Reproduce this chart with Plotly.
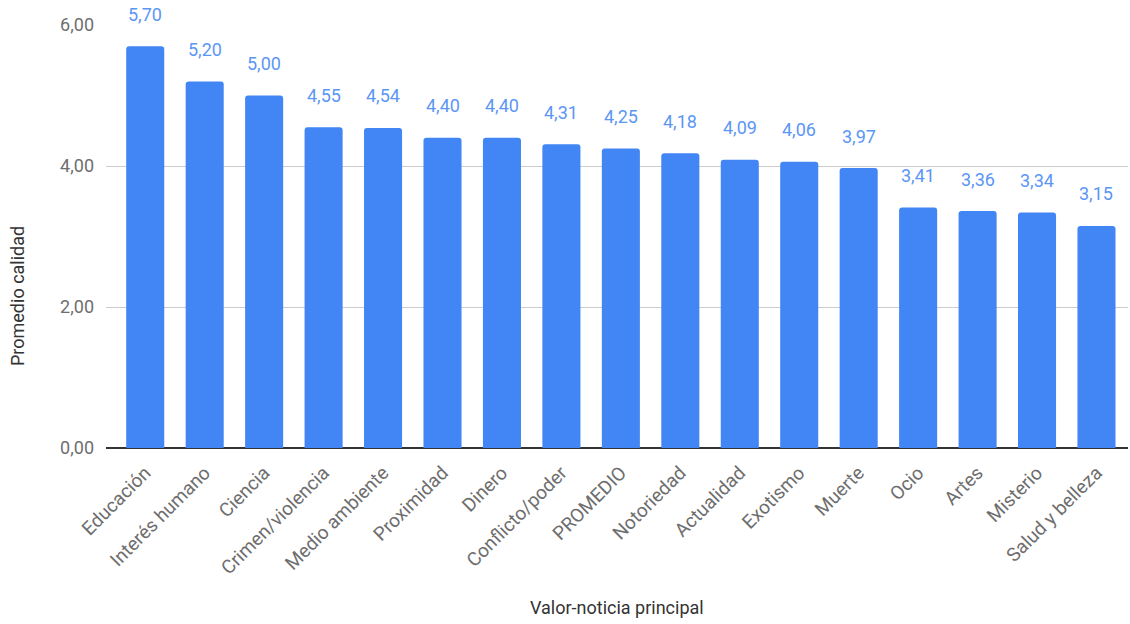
import plotly.graph_objects as go

categorias = ["Educación", "Interés humano", "Ciencia", "Crimen/violencia", "Medio ambiente",
              "Proximidad", "Dinero", "Conflicto/poder", "PROMEDIO", "Notoriedad", "Actualidad",
              "Exotismo", "Muerte", "Ocio", "Artes", "Misterio", "Salud y belleza"]
promedio_calidad = [5.70, 5.20, 5.00, 4.55, 4.54, 4.40, 4.40, 4.31, 4.25, 4.18, 4.09,
                    4.06, 3.97, 3.41, 3.36, 3.34, 3.15]
y_ticks = [0, 2, 4, 6]

AZUL = "#4285F4"
GRIS = "#6e6e6e"
FUENTE = "Roboto, Arial, sans-serif"

x_idx = list(range(len(categorias)))

fig = go.Figure(go.Bar(
    x=x_idx,
    y=promedio_calidad,
    marker=dict(color=AZUL, line=dict(width=0)),
    width=0.64,
    hoverinfo="x+y",
))

# etiquetas de valor sobre cada barra
for i, v in zip(x_idx, promedio_calidad):
    fig.add_annotation(
        x=i, y=v, text=f"{v:.2f}".replace(".", ","),
        showarrow=False, yshift=32, yanchor="middle",
        font=dict(family=FUENTE, size=18, color="#5b96f5"),
    )

# títulos de los ejes
fig.add_annotation(
    text="Valor-noticia principal", xref="paper", yref="paper",
    x=0.5, y=-(607 - 448) / 423, xanchor="center", yanchor="middle",
    showarrow=False, font=dict(family=FUENTE, size=18, color="#333333"),
)
fig.add_annotation(
    text="Promedio calidad", xref="paper", yref="paper",
    x=-(106 - 18) / 1022, y=(448 - 296) / 423, xanchor="center", yanchor="middle",
    textangle=-90, showarrow=False, font=dict(family=FUENTE, size=18, color="#333333"),
)

fig.update_layout(
    width=1130, height=624,
    margin=dict(l=106, r=2, t=25, b=176),
    plot_bgcolor="white", paper_bgcolor="white",
    separators=",.",
    font=dict(family=FUENTE, color=GRIS, size=17),
    barcornerradius=3,
    showlegend=False,
    xaxis=dict(
        tickmode="array", tickvals=x_idx, ticktext=categorias,
        range=[-0.66, 16.53], tickangle=-45,
        tickfont=dict(family=FUENTE, size=19, color=GRIS),
        showgrid=False, zeroline=False,
        showline=False, ticks="", automargin=False,
        ticklabelstandoff=9,
    ),
    yaxis=dict(
        range=[0, 6], tickvals=y_ticks, tickformat=".2f",
        tickfont=dict(family=FUENTE, size=18, color=GRIS),
        showgrid=True, gridcolor="#cccccc", gridwidth=1,
        zeroline=True, zerolinecolor="#333333", zerolinewidth=2,
        ticks="", ticklabelstandoff=11, automargin=False,
    ),
)

fig.write_html("out.html")
